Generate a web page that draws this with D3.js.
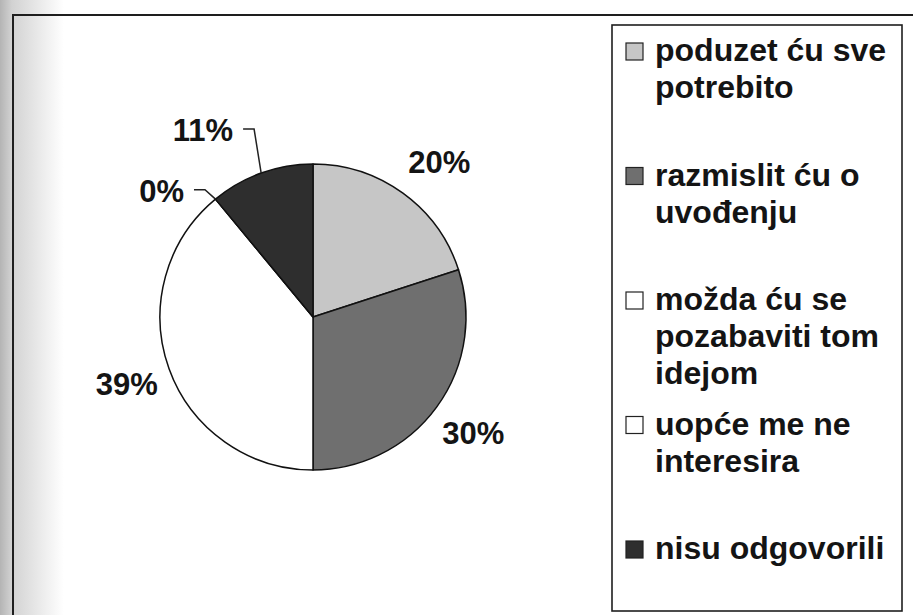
<!DOCTYPE html>
<meta charset="utf-8">
<script src="https://d3js.org/d3.v7.min.js"></script>
<style>
  body { margin: 0; background: #fff; }
  text { font-family: "Liberation Sans", Arial, sans-serif; font-weight: bold; fill: #141414; }
</style>
<div id="chart"></div>
<script>
// data
var categories = ["poduzet ću sve potrebito", "razmislit ću o uvođenju",
                  "možda ću se pozabaviti tom idejom", "uopće me ne interesira", "nisu odgovorili"];
var values = [20, 30, 39, 0, 11];
var labels = ["20%", "30%", "39%", "0%", "11%"];
var colors = ["#c6c6c6", "#6f6f6f", "#ffffff", "#ffffff", "#2e2e2e"];

var W = 913, H = 615;
var cx = 313, cy = 317, r = 153;

var svg = d3.select("#chart").append("svg")
  .attr("width", W).attr("height", H);

// scanned-page shading on the left
var grad = svg.append("defs").append("linearGradient").attr("id", "scan");
grad.append("stop").attr("offset", "0%").attr("stop-color", "#b4b4b4");
grad.append("stop").attr("offset", "1.3%").attr("stop-color", "#d2d2d2");
grad.append("stop").attr("offset", "7%").attr("stop-color", "#ffffff");
svg.append("rect").attr("width", W).attr("height", H).attr("fill", "url(#scan)");

// outer frame (runs off the page right and bottom)
svg.append("rect")
  .attr("x", 13).attr("y", 15).attr("width", W).attr("height", H)
  .attr("fill", "none").attr("stroke", "#1e1e1e").attr("stroke-width", 2);

// pie
var pie = d3.pie().sort(null).value(function(d) { return d; });
var arcs = pie(values);
var arc = d3.arc().innerRadius(0).outerRadius(r);

var g = svg.append("g").attr("transform", "translate(" + cx + "," + cy + ")");
g.selectAll("path.slice")
  .data(arcs)
  .enter().append("path")
    .attr("class", "slice")
    .attr("d", arc)
    .attr("fill", function(d, i) { return colors[i]; })
    .attr("stroke", "#111")
    .attr("stroke-width", 1.5)
    .attr("stroke-linejoin", "round");

function polar(a, rad) { return [Math.sin(a) * rad, -Math.cos(a) * rad]; }
function mid(d) { return (d.startAngle + d.endAngle) / 2; }

// small slices get leader lines: elbow radius and angle shift
var leader = { 3: { er: 167, da: -0.7 }, 4: { er: 197, da: 2.4 } };
var nudge = { 0: [10, 5] };

arcs.forEach(function(d, i) {
  var a = mid(d);
  if (leader[i]) {
    var p0 = polar(a, r);
    var e = polar(a + leader[i].da * Math.PI / 180, leader[i].er);
    g.append("polyline")
      .attr("points", [p0, e, [e[0] - 11, e[1]]].map(function(p) { return p.join(","); }).join(" "))
      .attr("fill", "none").attr("stroke", "#222").attr("stroke-width", 1.5);
    g.append("text")
      .attr("x", e[0] - 21).attr("y", e[1] + 12)
      .attr("text-anchor", "end").style("font-size", "31px")
      .text(labels[i]);
  } else {
    var p = polar(a, 198), n = nudge[i] || [0, 0];
    g.append("text")
      .attr("x", p[0] + n[0]).attr("y", p[1] + 11 + n[1])
      .attr("text-anchor", "middle").style("font-size", "31px")
      .text(labels[i]);
  }
});

// legend
var lx = 612, ly = 25, lw = 290, lh = 586;
svg.append("rect")
  .attr("x", lx).attr("y", ly).attr("width", lw).attr("height", lh)
  .attr("fill", "none").attr("stroke", "#1e1e1e").attr("stroke-width", 1.6);

var slotH = 124.5, lineH = 37, maxW = 242;
var leg = svg.append("g");
categories.forEach(function(name, i) {
  var base = ly + 36 + i * slotH;
  leg.append("rect")
    .attr("x", 626).attr("y", base - 18).attr("width", 17).attr("height", 17)
    .attr("fill", colors[i]).attr("stroke", "#222").attr("stroke-width", 1.2);
  var t = leg.append("text").attr("x", 655).attr("y", base).style("font-size", "32px");
  var words = name.split(" "), line = [], n = 0;
  var ts = t.append("tspan").attr("x", 655).attr("y", base);
  words.forEach(function(w) {
    line.push(w);
    ts.text(line.join(" "));
    if (ts.node().getComputedTextLength() > maxW && line.length > 1) {
      line.pop();
      ts.text(line.join(" "));
      line = [w];
      n++;
      ts = t.append("tspan").attr("x", 655).attr("y", base + n * lineH).text(w);
    }
  });
});
</script>
